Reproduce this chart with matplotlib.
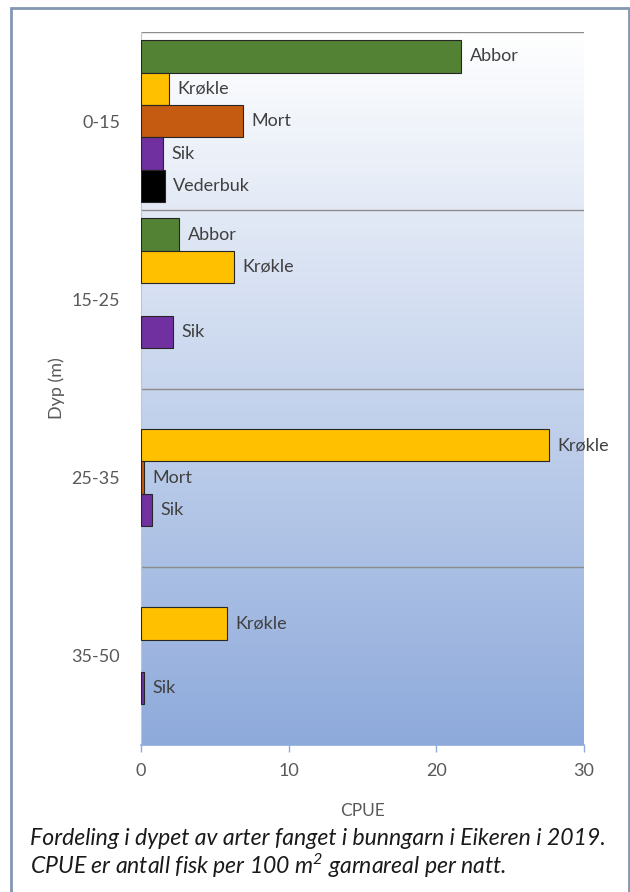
import numpy as np
import matplotlib
matplotlib.use("Agg")
import matplotlib.pyplot as plt
from matplotlib.patches import Rectangle
from matplotlib.colors import LinearSegmentedColormap

plt.rcParams['font.family'] = ['Lato', 'DejaVu Sans']
plt.rcParams['mathtext.fontset'] = 'custom'
plt.rcParams['mathtext.rm'] = 'Lato:italic'
plt.rcParams['mathtext.it'] = 'Lato:italic'

depths = ["0-15", "15-25", "25-35", "35-50"]
species = ["Abbor", "Krøkle", "Mort", "Sik", "Vederbuk"]
abbor = [21.7, 2.6, 0.0, 0.0]
krokle = [1.9, 6.3, 27.6, 5.8]
mort = [6.9, 0.0, 0.18, 0.0]
sik = [1.5, 2.2, 0.75, 0.22]
vederbuk = [1.6, 0.0, 0.0, 0.0]
series = [abbor, krokle, mort, sik, vederbuk]
colors = ["#548235", "#ffc000", "#c55a11", "#7030a0", "#000000"]
xticks = [0, 10, 20, 30]

W, H = 630, 892
fig = plt.figure(figsize=(W / 100, H / 100), dpi=100)
ax = fig.add_axes([141 / W, 1 - 745 / H, 443 / W, 713 / H])

# gradient background
cmap = LinearSegmentedColormap.from_list("bg", ["#ffffff", "#8eaadb"])
grad = np.linspace(0, 1, 256).reshape(-1, 1)
ax.imshow(grad, extent=[0, 1, 0, 1], transform=ax.transAxes, aspect='auto',
          cmap=cmap, origin='upper', zorder=0)

n = len(species)
h = 1 / (n + 0.5)
for j, (name, vals, c) in enumerate(zip(species, series, colors)):
    for i, v in enumerate(vals):
        if v <= 0:
            continue
        y = i + (j - (n - 1) / 2) * h
        ax.barh(y, v, height=h, color=c, edgecolor="#262626", linewidth=0.8, zorder=3)
        ax.annotate(name, (v, y), xytext=(6, 0), textcoords='offset points',
                    va='center', ha='left', fontsize=13, color="#404040", zorder=4)

for yy in [-0.5, 0.5, 1.5, 2.5]:
    ax.axhline(yy, color="#8c8c8c", lw=1, zorder=2)

ax.set_xlim(0, 30)
ax.set_ylim(3.5, -0.5)
ax.set_yticks(range(len(depths)))
ax.set_yticklabels(depths)
ax.set_xticks(xticks)
ax.tick_params(axis='y', length=0, pad=15, labelsize=13, labelcolor="#595959")
ax.tick_params(axis='x', length=5, width=1, color="#8faadc", pad=8, labelsize=13, labelcolor="#595959")
for s in ['top', 'right']:
    ax.spines[s].set_visible(False)
ax.spines['left'].set_color("#b4c7e7")
ax.spines['left'].set_linewidth(0.8)
ax.spines['bottom'].set_color("#8faadc")
ax.spines['bottom'].set_linewidth(1.2)

ax.set_xlabel("CPUE", fontsize=12.5, color="#595959", labelpad=17)
ax.set_ylabel("Dyp (m)", fontsize=13, color="#595959", labelpad=5)

fig.text(30 / W, 1 - 845 / H, "Fordeling i dypet av arter fanget i bunngarn i Eikeren i 2019.",
         fontsize=16.6, style='italic', color="#1a1a1a", va='baseline', ha='left')
fig.text(30 / W, 1 - 874 / H, "CPUE er antall fisk per 100 m$^{2}$ garnareal per natt.",
         fontsize=16.6, style='italic', color="#1a1a1a", va='baseline', ha='left')

fig.patches.append(Rectangle((11 / W, -0.05), 618 / W, 1 - 8 / H + 0.05,
                             transform=fig.transFigure, fill=False,
                             edgecolor="#8497b0", linewidth=2))

fig.savefig("out.png", dpi=100)
